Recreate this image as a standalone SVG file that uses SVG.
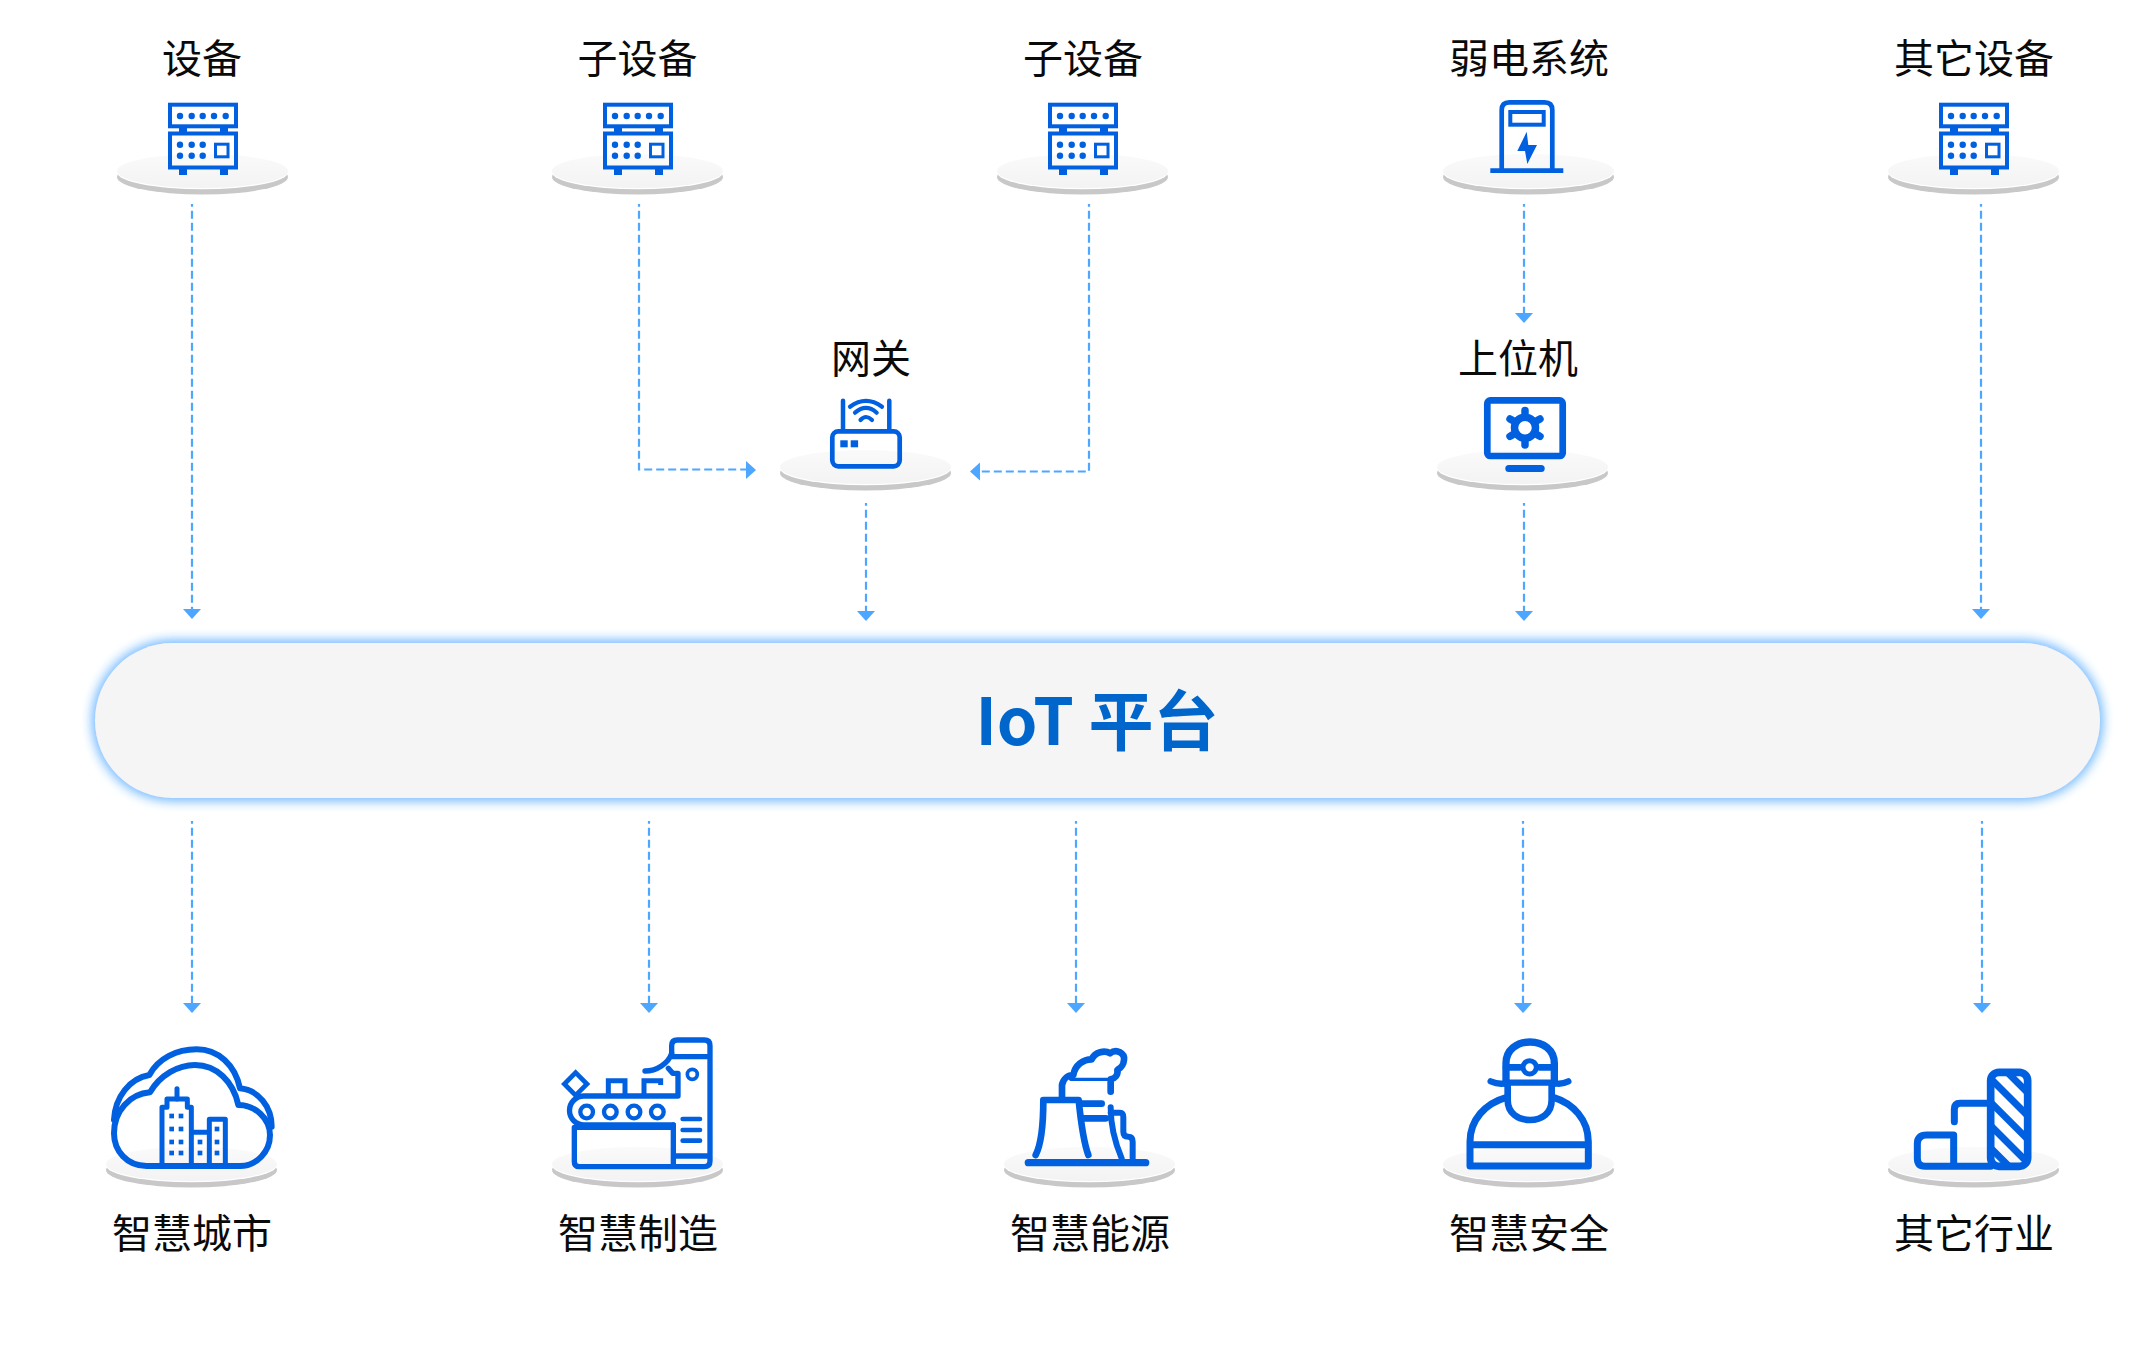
<svg xmlns="http://www.w3.org/2000/svg" width="2135" height="1350" viewBox="0 0 2135 1350">
<style>
.label{font-family:"Noto Sans CJK SC","Noto Sans",sans-serif;font-size:40px;fill:#0a0a0a;text-anchor:middle}
.title{font-family:"Noto Sans CJK SC","Noto Sans",sans-serif;font-size:65px;font-weight:700;fill:#0066cc;text-anchor:middle}
.flow{fill:none;stroke:#4da6ff;stroke-width:2.2;stroke-dasharray:8 4;stroke-dashoffset:5.3}
.head{fill:#4da6ff}
.ln{fill:none;stroke:#0060df;stroke-linecap:round;stroke-linejoin:round}
.sq{fill:none;stroke:#0060df;stroke-linecap:butt;stroke-linejoin:miter}
.fl{fill:#0060df}
</style>
<defs>
<linearGradient id="plateTop" x1="0" y1="0" x2="0" y2="1"><stop offset="0" stop-color="#fafafa"/><stop offset="1" stop-color="#f3f3f3"/></linearGradient>
<g id="plate">
<ellipse cx="0" cy="6" rx="85.5" ry="17.5" fill="#c8c8c8"/>
<ellipse cx="0" cy="1.2" rx="85.5" ry="17" fill="#ffffff"/>
<ellipse cx="0" cy="0" rx="85.5" ry="17" fill="url(#plateTop)"/>
</g>
<g id="server">
<rect class="sq" x="170" y="104.7" width="66" height="21.6" stroke-width="4"/>
<rect class="sq" x="170" y="133.5" width="66" height="34" stroke-width="4"/>
<rect class="fl" x="179" y="128" width="8" height="4"/><rect class="fl" x="220" y="128" width="8" height="4"/>
<rect class="fl" x="179" y="169" width="8" height="6"/><rect class="fl" x="220" y="169" width="8" height="6"/>
<g class="fl"><circle cx="180" cy="116" r="3.2"/><circle cx="191.7" cy="116" r="3.2"/><circle cx="202.7" cy="116" r="3.2"/><circle cx="214" cy="116" r="3.2"/><circle cx="225.7" cy="116" r="3.2"/>
<circle cx="180" cy="144.7" r="3.2"/><circle cx="191.7" cy="144.7" r="3.2"/><circle cx="202.7" cy="144.7" r="3.2"/><circle cx="180" cy="155.7" r="3.2"/><circle cx="191.7" cy="155.7" r="3.2"/><circle cx="202.7" cy="155.7" r="3.2"/></g>
<rect class="sq" x="215.5" y="144.2" width="12.5" height="12.6" stroke-width="3"/>
</g>
<filter id="glow" x="-3%" y="-30%" width="106%" height="160%"><feGaussianBlur in="SourceAlpha" stdDeviation="6.500" result="b"/><feFlood flood-color="#78bcff"/><feComposite in2="b" operator="in" result="c"/><feMerge><feMergeNode in="c"/><feMergeNode in="c"/><feMergeNode in="SourceGraphic"/></feMerge></filter>
<clipPath id="barClip"><rect x="392" y="157" width="111" height="282" rx="25"/></clipPath>
</defs>
<rect width="2135" height="1350" fill="#ffffff"/>

<g id="connectors">
<path class="flow" d="M192 204V609"/><path class="head" d="M183 609h18l-9 10z"/>
<path class="flow" d="M639 204V469.500H746"/><path class="head" d="M746 461v18l10-9z"/>
<path class="flow" d="M1089 204V471.500H980"/><path class="head" d="M980 462.500v18l-10-9z"/>
<path class="flow" d="M866 503V611"/><path class="head" d="M857 611h18l-9 10z"/>
<path class="flow" d="M1524 204V313"/><path class="head" d="M1515 313h18l-9 10z"/>
<path class="flow" d="M1524 503V611"/><path class="head" d="M1515 611h18l-9 10z"/>
<path class="flow" d="M1981 204V609"/><path class="head" d="M1972 609h18l-9 10z"/>
<path class="flow" d="M192 821V1003"/><path class="head" d="M183 1003h18l-9 10z"/>
<path class="flow" d="M649 821V1003"/><path class="head" d="M640 1003h18l-9 10z"/>
<path class="flow" d="M1076 821V1003"/><path class="head" d="M1067 1003h18l-9 10z"/>
<path class="flow" d="M1523 821V1003"/><path class="head" d="M1514 1003h18l-9 10z"/>
<path class="flow" d="M1982 821V1003"/><path class="head" d="M1973 1003h18l-9 10z"/>
</g>

<g id="node-device">
<text class="label" x="202" y="73">设备</text>
<use href="#plate" x="202.5" y="171"/><use href="#server"/>
</g>
<g id="node-subdevice-a">
<text class="label" x="637.500" y="73">子设备</text>
<use href="#plate" x="637.500" y="171"/><use href="#server" x="435"/>
</g>
<g id="node-subdevice-b">
<text class="label" x="1083" y="73">子设备</text>
<use href="#plate" x="1082.5" y="171"/><use href="#server" x="880"/>
</g>
<g id="node-low-voltage">
<text class="label" x="1529" y="73">弱电系统</text>
<use href="#plate" x="1528.5" y="171"/>
<path class="sq" d="M1501.7 170V110q0-7.7 7.7-7.7h35.2q7.7 0 7.7 7.7V170" stroke-width="4.7"/>
<path class="sq" d="M1490.3 170.7H1563.3" stroke-width="4.7"/>
<rect class="sq" x="1510.3" y="112" width="33.4" height="12.7" stroke-width="4"/>
<path class="fl" d="M1526.7 131.7L1517.3 151H1525L1527.3 164L1537 145H1528.3Z"/>
</g>
<g id="node-other-device">
<text class="label" x="1974" y="73">其它设备</text>
<use href="#plate" x="1973.500" y="171"/><use href="#server" x="1771"/>
</g>

<g id="node-gateway">
<text class="label" x="871" y="373">网关</text>
<use href="#plate" x="865.5" y="467"/>
<rect class="ln" x="832.3" y="431.3" width="67.4" height="35" rx="6" stroke-width="4.7"/>
<path class="ln" d="M843 400.7V429M889.3 400.7V429" stroke-width="4.5"/>
<path class="ln" d="M850 406.7Q866 395 882 406.7M855 412.7Q866 403 876.7 412.7M860.500 420Q866 414 872 420" stroke-width="4.200"/>
<rect class="fl" x="840.300" y="440.300" width="7.400" height="7"/><rect class="fl" x="850.700" y="440.300" width="7.400" height="7"/>
</g>
<g id="node-host">
<text class="label" x="1518" y="373">上位机</text>
<use href="#plate" x="1522.5" y="467"/>
<rect class="ln" x="1487.3" y="400.4" width="75.4" height="55.6" rx="3" stroke-width="6.7"/>
<rect class="fl" x="1505.300" y="465" width="39.400" height="7" rx="3.500"/>
<circle cx="1525" cy="427.700" r="10.500" fill="none" stroke="#0060df" stroke-width="7.500"/>
<path class="ln" stroke-width="7.500" d="M1525 413V410.500M1525 442.400V445M1512.300 420.300L1510 419M1537.700 420.300L1540 419M1512.300 435L1510 436.400M1537.700 435L1540 436.400"/>
</g>

<g id="node-platform">
<rect x="95" y="643" width="2005" height="155" rx="77.500" fill="#f5f5f5" filter="url(#glow)"/>
<text class="title" x="1097" y="745">IoT 平台</text>
</g>

<g id="node-city">
<use href="#plate" x="191.500" y="1164"/>
<g transform="translate(90 1020) scale(.33333)">
<path class="ln" stroke-width="18" d="M170 438C110 438 72 392 72 340C72 272 120 222 180 217C210 165 265 135 315 135C380 135 430 185 445 255C495 255 540 295 540 345C540 395 500 438 450 438Z"/>
<path class="ln" stroke-width="18" d="M72 300C75 230 120 175 178 165C205 115 260 88 320 88C385 88 435 135 450 205C505 210 545 260 545 320"/>
<path class="ln" stroke-width="15" d="M216 430V262H231V237H292V262H304V430M304 337H358M358 430V298H406V430"/>
<path class="ln" stroke-width="15" d="M261 206V237"/>
<g class="fl"><rect x="238" y="281" width="14" height="14"/><rect x="266" y="281" width="14" height="14"/><rect x="238" y="320" width="14" height="14"/><rect x="266" y="320" width="14" height="14"/><rect x="238" y="359" width="14" height="14"/><rect x="266" y="359" width="14" height="14"/><rect x="238" y="392" width="14" height="14"/><rect x="266" y="392" width="14" height="14"/><rect x="323" y="359" width="14" height="14"/><rect x="323" y="392" width="14" height="14"/><rect x="374" y="320" width="14" height="14"/><rect x="374" y="359" width="14" height="14"/><rect x="374" y="392" width="14" height="14"/></g>
</g>
<text class="label" x="192" y="1248">智慧城市</text>
</g>

<g id="node-manufacturing">
<use href="#plate" x="637.500" y="1164"/>
<g transform="translate(540 1020) scale(.33333)">
<path class="ln" stroke-width="16" d="M395 110V77Q395 60 412 60H493Q510 60 510 77V423Q510 440 493 440H118Q103 440 103 425V322H400M400 440V315M395 110H510M400 408H510"/>
<path class="ln" stroke-width="16" d="M315 153C350 153 385 130 395 100M385 145L398 160H414V228H132A43 43 0 0 0 132 315H400"/>
<circle cx="140" cy="276" r="19" fill="none" stroke="#0060df" stroke-width="13"/><circle cx="211" cy="276" r="19" fill="none" stroke="#0060df" stroke-width="13"/><circle cx="282" cy="276" r="19" fill="none" stroke="#0060df" stroke-width="13"/><circle cx="352" cy="276" r="19" fill="none" stroke="#0060df" stroke-width="13"/>
<path class="sq" stroke-width="15" d="M205 225V182H255V225M312 225V182H362V195"/>
<path class="sq" stroke-width="14" d="M107 158L141 192L115 218L107 226L73 192Z"/>
<circle cx="457" cy="163" r="15" fill="none" stroke="#0060df" stroke-width="11"/>
<path class="ln" stroke-width="14" d="M428 297H480M428 330H480M428 362H480"/>
</g>
<text class="label" x="638" y="1248">智慧制造</text>
</g>

<g id="node-energy">
<use href="#plate" x="1089.500" y="1164"/>
<g transform="translate(980 1020) scale(.33333)">
<path class="ln" stroke-width="20" d="M167 405C185 370 190 300 190 240H296C302 300 312 370 325 405"/>
<path class="ln" stroke-width="20" d="M305 251H365M310 295H378"/>
<path class="ln" stroke-width="22" d="M145 428H497"/>
<path class="ln" stroke-width="20" d="M246 230V195C250 175 265 165 280 165C285 135 310 118 335 118C345 95 375 90 390 100C410 85 435 100 432 120C430 140 420 145 412 150C415 165 405 175 392 178V215"/>
<path class="ln" stroke-width="10" d="M272 178H392"/>
<path class="ln" stroke-width="18" d="M392 262C392 320 410 380 425 415M392 278H420Q430 278 430 292V335Q430 350 445 350Q458 350 458 365V415"/>
</g>
<text class="label" x="1090" y="1248">智慧能源</text>
</g>

<g id="node-safety">
<use href="#plate" x="1528.500" y="1164"/>
<g transform="translate(1420 1020) scale(.33333)">
<path class="ln" stroke-width="22" d="M258 190V130C258 90 290 66 330 66C370 66 403 90 403 130V190"/>
<path class="ln" stroke-width="20" d="M258 142H300M358 142H403"/>
<circle cx="329" cy="142" r="20" fill="none" stroke="#0060df" stroke-width="15"/>
<path class="ln" stroke-width="19" d="M212 184Q240 196 262 188H400Q420 196 445 184"/>
<path class="ln" stroke-width="20" d="M263 190V240C263 280 295 300 330 300C365 300 395 280 395 240V190"/>
<path class="ln" stroke-width="21" d="M260 232C195 250 150 300 150 365V438H505V365C505 300 460 250 400 232M150 374H505"/>
</g>
<text class="label" x="1529" y="1248">智慧安全</text>
</g>

<g id="node-other-industry">
<use href="#plate" x="1973.500" y="1164"/>
<g transform="translate(1860 1020) scale(.33333)">
<g clip-path="url(#barClip)"><path class="sq" stroke-width="21" d="M380 95L520 235M380 164L520 304M380 235L520 375M380 305L520 445M380 372L470 462"/></g>
<rect class="ln" x="392" y="157" width="111" height="282" rx="25" stroke-width="23"/>
<path class="ln" stroke-width="21" d="M283 305V268Q283 250 300 250H392"/>
<path class="ln" stroke-width="21" d="M281 345H200Q172 345 172 372V415Q172 439 195 439H392M281 345V439"/>
</g>
<text class="label" x="1974" y="1248">其它行业</text>
</g>
</svg>
